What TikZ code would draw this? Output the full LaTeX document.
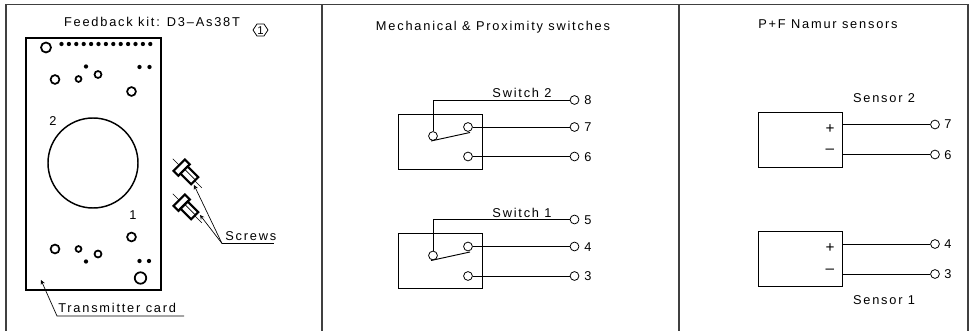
\documentclass[tikz,border=0pt]{standalone}
\usepackage{fontspec}
\setmainfont[LetterSpace=14]{Liberation Sans}
\usetikzlibrary{arrows,positioning}
\tikzset{
    frameline/.style={draw, line width=0.9pt, black!75},
    thinline/.style={draw, line width=0.6pt},
    termnode/.style={draw, circle, inner sep=0pt, minimum size=6.6pt, line width=0.6pt},
    ringnode/.style={draw, circle, inner sep=0pt, line width=1.3pt},
    dotnode/.style={fill, circle, inner sep=0pt, minimum size=3.2pt},
    cadtext/.style={font=\fontsize{9.6}{11}\selectfont, inner sep=0pt, anchor=base},
    signtext/.style={font=\fontsize{11.5}{12}\selectfont, inner sep=0pt, anchor=center},
}

\begin{document}
\begin{tikzpicture}[x=0.75pt, y=-0.75pt]
    \useasboundingbox (0,0) rectangle (972,331);

    % frame
    \coordinate (fa) at (6,331);
    \coordinate (fb) at (6,4.5);
    \coordinate (fc) at (968,4.5);
    \coordinate (fd) at (968,331);
    \coordinate (da) at (322,4.5);
    \coordinate (db) at (322,331);
    \coordinate (dc) at (679,4.5);
    \coordinate (dd) at (679,331);
    \draw[frameline] (fa) -- (fb) -- (fc) -- (fd);
    \draw[frameline] (da) -- (db);
    \draw[frameline] (dc) -- (dd);

    % titles
    \node[cadtext] (t0) at (152,27) {Feedback kit: D3--As38T};
    \node[cadtext] (t1) at (493,31) {Mechanical \& Proximity switches};
    \node[cadtext] (t2) at (828,29) {P+F Namur sensors};
    \node[cadtext, font=\fontsize{8.5}{9}\selectfont] (rev) at (260.5,34.5) {1};
    \coordinate (ha) at (253,30);
    \coordinate (hb) at (257,24);
    \coordinate (hc) at (264,24);
    \coordinate (hd) at (268,30);
    \coordinate (he) at (264,36);
    \coordinate (hf) at (257,36);
    \draw[thinline] (ha) -- (hb) -- (hc) -- (hd) -- (he) -- (hf) -- cycle;

    % transmitter card
    \coordinate (ca) at (26,38);
    \coordinate (cb) at (161,290);
    \draw[line width=1.5pt] (ca) rectangle (cb);
    \node[draw, circle, inner sep=0pt, minimum size=67.5pt, line width=1.1pt] (pot) at (93,163) {};
    \node[ringnode, minimum size=7.5pt] (h0) at (46,47.5) {};
    \foreach \i in {0,...,12}
        \node[dotnode] (d\i) at (61.5+7.4*\i,44) {};
    \foreach \n/\x/\y in {a/86/66.5, b/139.5/67, c/149.5/67, e/86/261.5, f/139.5/261, g/149/261}
        \node[dotnode] (s\n) at (\x,\y) {};
    \foreach \n/\x/\y/\s in {a/55/79.5/6.6, b/78.5/79/4.4, c/98/74.5/5.2, d/131.5/91.5/6.6,
                             e/131.5/237/6.6, f/55/249/6.6, g/78.5/249/4.4, h/98/254/5.2, i/140.5/278/8.6}
        \node[ringnode, minimum size=\s pt] (r\n) at (\x,\y) {};
    \node[cadtext] (no2) at (53,126) {2};
    \node[cadtext] (no1) at (133,220) {1};

    % screws
    \foreach \n/\y in {u/0, l/35} {
        \begin{scope}[shift={(182,168+\y)}, rotate=-45]
            \coordinate (\n a) at (-13,0);
            \coordinate (\n b) at (28,0);
            \draw[line width=0.5pt] (\n a) -- (\n b);
            \draw[line width=1.6pt, fill=white] (-4,-8) rectangle (3,8);
            \draw[line width=1.6pt, fill=white] (3,-5) rectangle (18,5);
            \draw[line width=0.5pt] (3,-1) -- (18,-1);
        \end{scope}
    }

    % leaders
    \coordinate (sa) at (222,243.5);
    \coordinate (sb) at (274,243.5);
    \coordinate (sc) at (194,185);
    \coordinate (sd) at (200,215);
    \node[cadtext, anchor=base west] (screws) at (225,241) {Screws};
    \draw[line width=0.9pt] (sa) -- (sb);
    \path[->, >=stealth, line width=0.5pt]
    (sa) edge (sc)
    (sa) edge (sd);
    \coordinate (ta) at (41,280);
    \coordinate (tb) at (57,316);
    \coordinate (tc) at (184,316);
    \node[cadtext, anchor=base west] (card) at (58,313) {Transmitter card};
    \draw[->, >=stealth, line width=0.5pt] (tc) -- (tb) -- (ta);

    % switches
    \foreach \n/\y/\swname/\ta/\tb/\tc in {up/0/Switch 2/8/7/6, lo/119.5/Switch 1/5/4/3} {
        \node[thinline, minimum width=63pt, minimum height=41.2pt, inner sep=0pt] (box\n) at (440,141.5+\y) {};
        \node[termnode] (com\n) at (433,136+\y) {};
        \node[termnode] (no\n) at (468,127+\y) {};
        \node[termnode] (nc\n) at (468,156.5+\y) {};
        \node[termnode] (ta\n) at (574.5,100+\y) {};
        \node[termnode] (tb\n) at (574.5,127+\y) {};
        \node[termnode] (tc\n) at (574.5,156.5+\y) {};
        \node[cadtext, anchor=west] (la\n) at (584,100.5+\y) {\ta};
        \node[cadtext, anchor=west] (lb\n) at (584,127.5+\y) {\tb};
        \node[cadtext, anchor=west] (lc\n) at (584,157+\y) {\tc};
        \node[cadtext] (name\n) at (522,98+\y) {\swname};
        \coordinate (cn\n) at (433,100+\y);
        \coordinate (ka\n) at (431,141+\y);
        \coordinate (kb\n) at (470,132.5+\y);
        \draw[thinline] (com\n) -- (cn\n) -- (ta\n);
        \draw[thinline] (no\n) -- (tb\n);
        \draw[thinline] (nc\n) -- (tc\n);
        \draw[line width=0.7pt] (ka\n) -- (kb\n);
    }

    % sensors
    \foreach \n/\y/\tb/\tc in {up/0/7/6, lo/119.5/4/3} {
        \node[thinline, minimum width=62.6pt, minimum height=41.2pt, inner sep=0pt] (sen\n) at (800.3,139.5+\y) {};
        \node[termnode] (sp\n) at (935,124.5+\y) {};
        \node[termnode] (sm\n) at (935,154.5+\y) {};
        \node[cadtext, anchor=west] (sl\n) at (944,124.5+\y) {\tb};
        \node[cadtext, anchor=west] (sk\n) at (944,155+\y) {\tc};
        \node[signtext] (pl\n) at (830,129+\y) {+};
        \node[signtext] (mi\n) at (830,151.5+\y) {--};
        \coordinate (cp\n) at (842,124.5+\y);
        \coordinate (cm\n) at (842,154.5+\y);
        \draw[thinline] (cp\n) -- (sp\n);
        \draw[thinline] (cm\n) -- (sm\n);
    }
    \node[cadtext] (namea) at (884,102.5) {Sensor 2};
    \node[cadtext] (nameb) at (884,305) {Sensor 1};
\end{tikzpicture}
\end{document}
